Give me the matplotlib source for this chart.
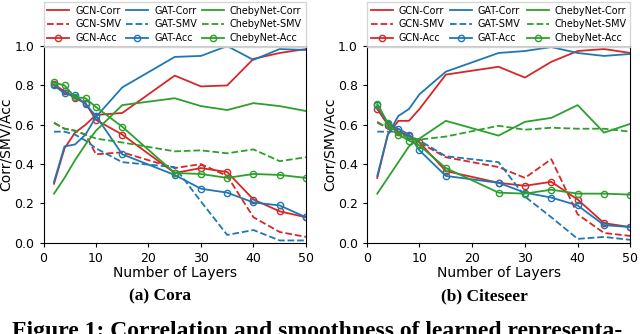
import numpy as np
import matplotlib.pyplot as plt

layers = [2, 4, 6, 8, 10, 15, 25, 30, 35, 40, 45, 50]

# Cora
cora_gcn_corr = [0.30, 0.48, 0.56, 0.60, 0.65, 0.66, 0.85, 0.795, 0.80, 0.935, 0.965, 0.985]
cora_gcn_smv = [0.61, 0.58, 0.57, 0.55, 0.45, 0.46, 0.38, 0.40, 0.34, 0.13, 0.055, 0.03]
cora_gcn_acc = [0.805, 0.77, 0.735, 0.71, 0.625, 0.55, 0.355, 0.38, 0.36, 0.22, 0.16, 0.13]
cora_gat_corr = [0.31, 0.49, 0.50, 0.55, 0.64, 0.79, 0.945, 0.95, 1.0, 0.93, 0.985, 0.98]
cora_gat_smv = [0.565, 0.565, 0.55, 0.52, 0.48, 0.41, 0.385, 0.21, 0.04, 0.065, 0.012, 0.012]
cora_gat_acc = [0.80, 0.76, 0.75, 0.705, 0.645, 0.45, 0.345, 0.275, 0.255, 0.205, 0.19, 0.13]
cora_cheb_corr = [0.25, 0.33, 0.42, 0.50, 0.57, 0.70, 0.735, 0.695, 0.675, 0.71, 0.695, 0.67]
cora_cheb_smv = [0.61, 0.58, 0.57, 0.55, 0.53, 0.51, 0.465, 0.47, 0.455, 0.475, 0.415, 0.435]
cora_cheb_acc = [0.815, 0.80, 0.74, 0.735, 0.69, 0.59, 0.355, 0.35, 0.33, 0.35, 0.345, 0.33]

# Citeseer
cite_gcn_corr = [0.33, 0.55, 0.62, 0.62, 0.68, 0.855, 0.895, 0.84, 0.92, 0.975, 0.985, 0.965]
cite_gcn_smv = [0.615, 0.58, 0.555, 0.545, 0.51, 0.435, 0.385, 0.33, 0.425, 0.145, 0.05, 0.035]
cite_gcn_acc = [0.68, 0.60, 0.565, 0.545, 0.51, 0.365, 0.305, 0.29, 0.31, 0.22, 0.10, 0.08]
cite_gat_corr = [0.34, 0.55, 0.645, 0.68, 0.755, 0.87, 0.965, 0.975, 0.995, 0.965, 0.95, 0.96]
cite_gat_smv = [0.565, 0.565, 0.565, 0.545, 0.52, 0.44, 0.41, 0.235, 0.13, 0.02, 0.03, 0.015]
cite_gat_acc = [0.70, 0.605, 0.58, 0.55, 0.47, 0.34, 0.305, 0.255, 0.23, 0.19, 0.09, 0.08]
cite_cheb_corr = [0.25, 0.33, 0.41, 0.49, 0.53, 0.62, 0.545, 0.615, 0.635, 0.70, 0.56, 0.605]
cite_cheb_smv = [0.61, 0.585, 0.555, 0.535, 0.525, 0.54, 0.595, 0.575, 0.585, 0.58, 0.58, 0.565]
cite_cheb_acc = [0.705, 0.61, 0.55, 0.52, 0.495, 0.38, 0.255, 0.25, 0.27, 0.25, 0.25, 0.245]

models = ["GCN", "GAT", "ChebyNet"]
colors = ["#d62728", "#1f77b4", "#2ca02c"]

cora = [(cora_gcn_corr, cora_gcn_smv, cora_gcn_acc),
        (cora_gat_corr, cora_gat_smv, cora_gat_acc),
        (cora_cheb_corr, cora_cheb_smv, cora_cheb_acc)]
cite = [(cite_gcn_corr, cite_gcn_smv, cite_gcn_acc),
        (cite_gat_corr, cite_gat_smv, cite_gat_acc),
        (cite_cheb_corr, cite_cheb_smv, cite_cheb_acc)]


def draw(ax, data):
    for name, c, (corr, smv, acc) in zip(models, colors, data):
        ax.plot(layers, corr, "-", color=c, lw=1.3, label=name + "-Corr")
        ax.plot(layers, smv, "--", color=c, lw=1.3, label=name + "-SMV")
        ax.plot(layers, acc, "-", color=c, lw=1.3, marker="o", ms=4.5,
                mfc="none", mew=1.0, label=name + "-Acc")
    ax.set_xlim(0, 50)
    ax.set_ylim(0, 1.0)
    ax.set_xticks(np.arange(0, 51, 10))
    ax.set_yticks(np.arange(0, 1.01, 0.2))
    ax.tick_params(labelsize=9, length=3)
    ax.set_xlabel("Number of Layers", fontsize=10, labelpad=1)
    ax.set_ylabel("Corr/SMV/Acc", fontsize=10, labelpad=1)
    ax.legend(loc="lower left", bbox_to_anchor=(0.0, 0.995, 1.0, 0.2),
              mode="expand", ncol=3, fontsize=6.9, handlelength=2.3,
              handletextpad=0.6, columnspacing=0.6, labelspacing=0.4,
              borderpad=0.4, fancybox=False, edgecolor="#cccccc",
              borderaxespad=0.0)


fig = plt.figure(figsize=(6.4, 3.34), dpi=100)
ax1 = fig.add_axes([0.068, 0.273, 0.41, 0.589])
ax2 = fig.add_axes([0.573, 0.273, 0.412, 0.589])
draw(ax1, cora)
draw(ax2, cite)

fig.text(0.25, 0.10, "(a) Cora", ha="center", fontsize=12.5,
         fontweight="bold", family="Liberation Serif")
fig.text(0.757, 0.10, "(b) Citeseer", ha="center", fontsize=12.5,
         fontweight="bold", family="Liberation Serif")
fig.text(0.495, -0.008, "Figure 1: Correlation and smoothness of learned representa-",
         ha="center", fontsize=17, fontweight="bold", family="Liberation Serif")

fig.savefig("out.png", dpi=100)
